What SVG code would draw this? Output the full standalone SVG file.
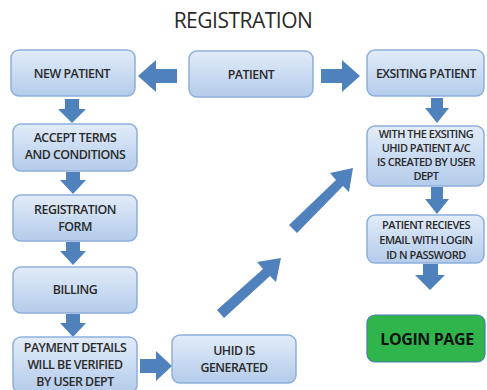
<svg xmlns="http://www.w3.org/2000/svg" width="487" height="390" viewBox="0 0 487 390">
<defs>
<linearGradient id="g" x1="0" y1="0" x2="0" y2="1">
<stop offset="0" stop-color="#e2ecf9"/>
<stop offset="1" stop-color="#b3cbea"/>
</linearGradient>
<style>
.b{fill:url(#g);stroke:#8eaedb;stroke-width:1.5}
.t{font-family:"Open Sans","Liberation Sans",sans-serif;font-size:12.4px;font-weight:600;fill:#2a2a2a;text-anchor:middle;letter-spacing:-0.5px}
.r{font-size:11px}
.a{fill:#4f81bd}
</style>
</defs>
<rect width="487" height="390" fill="#fff"/>
<text x="243" y="28" font-family="'Open Sans','Liberation Sans',sans-serif" font-size="21" fill="#2a2a2a" text-anchor="middle" letter-spacing="-0.5">REGISTRATION</text>
<g id="connectors">
<path class="a" d="M177,69 H156 V60 L138,76 L156,92 V83 H177 Z"/>
<path class="a" d="M321,69 H342 V60 L360,76 L342,92 V83 H321 Z"/>
<path class="a" d="M65,99 H79 V109 H86 L72,123 L58,109 H65 Z"/>
<path class="a" d="M66,172 H80 V180 H86 L73,194 L60,180 H66 Z"/>
<path class="a" d="M66,242 H80 V251 H86 L73,265 L60,251 H66 Z"/>
<path class="a" d="M66,314 H80 V323 H86 L73,337 L60,323 H66 Z"/>
<path class="a" d="M140,359 H156 V351 L172,366 L156,381 V373 H140 Z"/>
<path class="a" d="M431,98 H443 V108 H449 L437,123 L425,108 H431 Z"/>
<path class="a" d="M431,187 H443 V199 H449 L437,214 L425,199 H431 Z"/>
<path class="a" d="M423,264 H438 V275 H445 L430,290 L415,275 H423 Z"/>
<path class="a" d="M217,310 L263,269 L257,262 L281,258 L276,282 L270,276 L224,318 Z"/>
<path class="a" d="M289,225 L336,180 L330,173 L353,168 L349,192 L343,186 L297,233 Z"/>
</g>
<g id="n-new"><rect class="b" x="11" y="50" width="124" height="46" rx="8"/><text class="t" x="72" y="78">NEW PATIENT</text></g>
<g id="n-patient"><rect class="b" x="189" y="51" width="124" height="46" rx="8"/><text class="t" x="251" y="79">PATIENT</text></g>
<g id="n-existing"><rect class="b" x="367" y="50" width="117" height="46" rx="8"/><text class="t" x="426" y="78">EXSITING PATIENT</text></g>
<g id="n-accept"><rect class="b" x="13" y="124" width="124" height="47" rx="8"/><text class="t" x="75" y="142">ACCEPT TERMS</text><text class="t" x="75" y="159">AND CONDITIONS</text></g>
<g id="n-form"><rect class="b" x="13" y="195" width="124" height="46" rx="8"/><text class="t" x="75" y="214">REGISTRATION</text><text class="t" x="75" y="231">FORM</text></g>
<g id="n-billing"><rect class="b" x="13" y="267" width="124" height="46" rx="8"/><text class="t" x="75" y="294">BILLING</text></g>
<g id="n-payment"><rect class="b" x="13" y="337" width="124" height="56" rx="8"/><text class="t" x="75" y="352">PAYMENT DETAILS</text><text class="t" x="75" y="369">WILL BE VERIFIED</text><text class="t" x="75" y="386">BY USER DEPT</text></g>
<g id="n-uhid"><rect class="b" x="172" y="335" width="124" height="48" rx="8"/><text class="t" x="234" y="355">UHID IS</text><text class="t" x="234" y="372">GENERATED</text></g>
<g id="n-with"><rect class="b" x="367" y="126" width="117" height="60" rx="8"/><text class="t r" x="426" y="138">WITH THE EXSITING</text><text class="t r" x="426" y="152">UHID  PATIENT A/C</text><text class="t r" x="426" y="166">IS CREATED BY USER</text><text class="t r" x="426" y="180">DEPT</text></g>
<g id="n-email"><rect class="b" x="367" y="215" width="117" height="48" rx="8"/><text class="t r" x="426" y="229">PATIENT RECIEVES</text><text class="t r" x="426" y="244">EMAIL WITH LOGIN</text><text class="t r" x="426" y="259">ID N PASSWORD</text></g>
<g id="n-login"><rect x="367" y="315" width="118" height="47" rx="8" fill="#2fb54c" stroke="#4a7ab0" stroke-width="1.2"/><text x="427" y="345" font-family="'Open Sans','Liberation Sans',sans-serif" font-size="16" font-weight="bold" fill="#111" text-anchor="middle" letter-spacing="-0.4">LOGIN PAGE</text></g>
</svg>
